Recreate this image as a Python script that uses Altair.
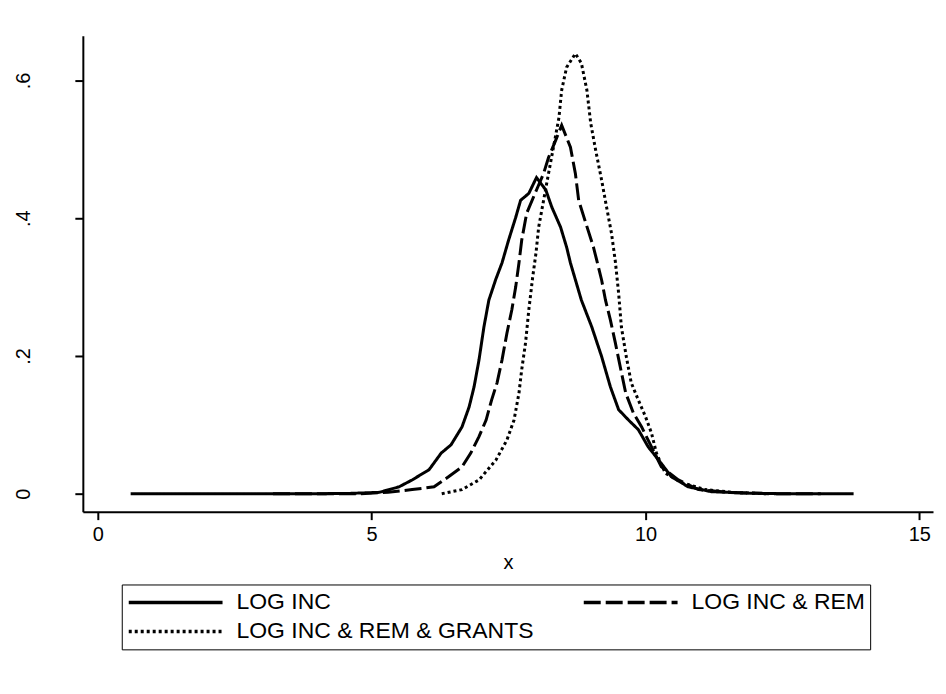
import altair as alt
import pandas as pd

# Series: kernel density estimates
inc_x = [0.6, 2.0, 3.0, 4.0, 4.6, 5.14, 5.5, 5.74, 6.05, 6.27, 6.45, 6.65, 6.78, 6.87, 6.96,
         7.05, 7.14, 7.27, 7.38, 7.5, 7.63, 7.72, 7.87, 8.01, 8.18, 8.29, 8.45, 8.56, 8.63,
         8.83, 9.02, 9.2, 9.36, 9.51, 9.69, 9.87, 10.05, 10.24, 10.47, 10.78, 11.2, 11.8,
         12.5, 13.2, 13.8]
inc_y = [0, 0, 0, 0, 0.0005, 0.002, 0.010, 0.020, 0.035, 0.059, 0.071, 0.097, 0.126, 0.155,
         0.194, 0.242, 0.281, 0.312, 0.335, 0.368, 0.401, 0.426, 0.436, 0.459, 0.441, 0.416,
         0.387, 0.358, 0.335, 0.281, 0.242, 0.199, 0.155, 0.122, 0.107, 0.093, 0.068, 0.049,
         0.025, 0.010, 0.003, 0.001, 0, 0, 0]

rem_x = [3.2, 4.0, 4.8, 5.3, 5.74, 6.14, 6.41, 6.65, 6.81, 6.96, 7.09, 7.19, 7.29, 7.38, 7.47,
         7.56, 7.63, 7.69, 7.74, 7.83, 8.01, 8.14, 8.23, 8.36, 8.47, 8.63, 8.72, 8.78, 8.91,
         9.05, 9.11, 9.2, 9.27, 9.36, 9.45, 9.54, 9.64, 9.78, 9.93, 10.11, 10.29, 10.6, 10.97,
         11.5, 12.3, 13.2]
rem_y = [0, 0, 0, 0.002, 0.006, 0.010, 0.025, 0.039, 0.059, 0.083, 0.107, 0.136, 0.161, 0.194,
         0.233, 0.267, 0.300, 0.335, 0.368, 0.407, 0.441, 0.465, 0.488, 0.513, 0.535, 0.503,
         0.465, 0.426, 0.393, 0.358, 0.339, 0.310, 0.281, 0.252, 0.219, 0.184, 0.146, 0.117,
         0.097, 0.068, 0.039, 0.020, 0.006, 0.002, 0, 0]

gr_x = [6.28, 6.65, 6.96, 7.27, 7.47, 7.6, 7.69, 7.74, 7.81, 7.87, 7.94, 8.0, 8.05, 8.14, 8.23,
        8.32, 8.42, 8.47, 8.56, 8.72, 8.83, 8.93, 9.0, 9.09, 9.2, 9.29, 9.38, 9.45, 9.51, 9.56,
        9.65, 9.74, 9.87, 10.0, 10.11, 10.2, 10.36, 10.66, 11.09, 11.6, 12.2]
gr_y = [0, 0.006, 0.020, 0.049, 0.078, 0.107, 0.146, 0.180, 0.219, 0.267, 0.314, 0.349, 0.387,
        0.426, 0.465, 0.503, 0.546, 0.586, 0.619, 0.639, 0.625, 0.586, 0.538, 0.499, 0.455,
        0.416, 0.378, 0.337, 0.291, 0.242, 0.199, 0.161, 0.136, 0.112, 0.088, 0.059, 0.030,
        0.016, 0.006, 0.002, 0]

series_names = ["LOG INC", "LOG INC & REM", "LOG INC & REM & GRANTS"]
x_ticks = [0, 5, 10, 15]
y_ticks = [0, 0.2, 0.4, 0.6]

rows = []
for name, xs, ys in zip(series_names, [inc_x, rem_x, gr_x], [inc_y, rem_y, gr_y]):
    for i, (a, b) in enumerate(zip(xs, ys)):
        rows.append({"series": name, "x": a, "y": b, "i": i})
df = pd.DataFrame(rows)

FONT = "Liberation Sans"

chart = alt.Chart(df).mark_line(color="black", strokeWidth=3, clip=True).encode(
    x=alt.X("x:Q",
            scale=alt.Scale(domain=[-0.273, 15.25], nice=False, zero=False),
            axis=alt.Axis(values=x_ticks, title="x", format="d", labelPadding=5,
                          titlePadding=8)),
    y=alt.Y("y:Q",
            scale=alt.Scale(domain=[-0.026, 0.665], nice=False, zero=False),
            axis=alt.Axis(values=y_ticks, title=None, labelAngle=270, labelAlign="center",
                          labelBaseline="bottom", labelPadding=41,
                          labelExpr="datum.value == 0 ? '0' : replace(format(datum.value, '.1f'), '0.', '.')")),
    strokeDash=alt.StrokeDash("series:N",
        scale=alt.Scale(domain=series_names, range=[[1, 0], [17, 5], [3, 3]]),
        legend=alt.Legend(orient="none", legendX=39, legendY=550, columns=2, title=None,
                          direction="horizontal",
                          symbolType="stroke", symbolSize=8836, symbolStrokeWidth=3.5,
                          symbolStrokeColor="black", labelFont=FONT, labelFontSize=23,
                          labelColor="black", labelLimit=500, labelOffset=12,
                          strokeColor="black", padding=5, columnPadding=48, rowPadding=3,
                          clipHeight=26)),
    order="i:Q",
).properties(
    width=852, height=477,
    background="white",
    autosize=alt.AutoSizeParams(type="none"),
    padding={"left": 75, "top": 27, "right": 5, "bottom": 170},
).configure_axis(
    grid=False, domainColor="black", domainWidth=2, tickColor="black", tickWidth=2,
    tickSize=8, labelFont=FONT, labelFontSize=20, labelColor="black",
    titleFont=FONT, titleFontSize=20, titleFontWeight="normal", titleColor="black",
).configure_view(stroke=None)

chart.save("out.html", embed_options={"renderer": "svg", "actions": False})
